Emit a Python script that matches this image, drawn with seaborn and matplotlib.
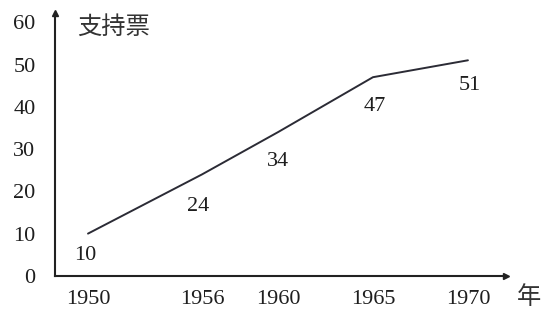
"""
Line chart: support votes by year (支持票 / 年).
"""

import matplotlib.pyplot as plt
import pandas as pd
import seaborn as sns

# data
years = [1950, 1956, 1960, 1965, 1970]
votes = [10, 24, 34, 47, 51]
y_ticks = [0, 10, 20, 30, 40, 50, 60]

# where each value label sits relative to its point (points)
label_dx = [-2, -3, 0, 1, 1]
label_dy = [-16, -23, -21, -21, -18]

SERIF = ["Liberation Serif", "DejaVu Serif"]
CJK = ["Noto Sans CJK SC", "DejaVu Sans"]


def dibujar():
    sns.set_theme(style="white")
    plt.rcParams["font.family"] = SERIF

    df = pd.DataFrame({"year": years, "votes": votes})

    fig = plt.figure(figsize=(5.44, 3.16), dpi=100)
    ax = fig.add_axes([0.101, 0.127, 0.829, 0.832])

    sns.lineplot(data=df, x="year", y="votes", ax=ax, color="#2b2b35",
                 linewidth=1.4)

    # value labels under each point
    for x, y, dx, dy in zip(years, votes, label_dx, label_dy):
        ax.annotate(str(y), (x, y), xytext=(dx, dy), textcoords="offset points",
                    ha="center", va="center", fontsize=16, color="#1e1e1e",
                    family=SERIF)

    ax.set_xlim(1948.26, 1972.0)
    ax.set_ylim(0, 62.2)
    ax.set_xticks(years)
    ax.set_yticks(y_ticks)
    ax.tick_params(axis="both", length=0, labelsize=16, colors="#1e1e1e")
    ax.tick_params(axis="y", pad=14)
    ax.tick_params(axis="x", pad=10)
    ax.set_xlabel("")
    ax.set_ylabel("")

    for side in ["top", "right"]:
        ax.spines[side].set_visible(False)
    for side in ["left", "bottom"]:
        ax.spines[side].set_color("#222222")
        ax.spines[side].set_linewidth(1.5)

    # arrow heads at the end of each axis
    ax.plot(1, 0, ">", color="#222222", markersize=5, transform=ax.transAxes,
            clip_on=False)
    ax.plot(0, 1, "^", color="#222222", markersize=5, transform=ax.transAxes,
            clip_on=False)

    # axis names
    fig.text(77 / 544, 1 - 27 / 316, "支持票", ha="left", va="center",
             fontsize=17.5, family=CJK, color="#333333")
    fig.text(529 / 544, 1 - 297 / 316, "年", ha="center", va="center",
             fontsize=17.5, family=CJK, color="#333333")

    fig.savefig("out.png", dpi=100)
    plt.close(fig)


if __name__ == "__main__":
    dibujar()
